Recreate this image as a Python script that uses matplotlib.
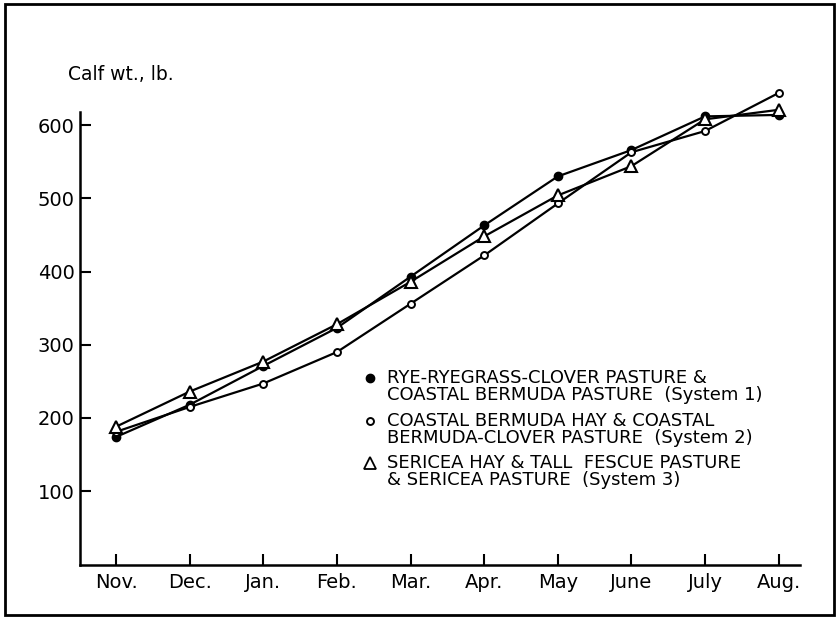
import matplotlib
matplotlib.use("Agg")
import matplotlib.pyplot as plt
from matplotlib.lines import Line2D
from matplotlib.legend_handler import HandlerLine2D
from matplotlib.patches import Rectangle

months = ["Nov.", "Dec.", "Jan.", "Feb.", "Mar.", "Apr.", "May", "June", "July", "Aug."]
system1 = [174, 218, 271, 323, 393, 463, 530, 566, 612, 614]
system2 = [181, 215, 247, 290, 356, 422, 493, 563, 592, 644]
system3 = [188, 236, 277, 328, 386, 448, 504, 544, 608, 621]
labels = [
    "RYE-RYEGRASS-CLOVER PASTURE &\nCOASTAL BERMUDA PASTURE  (System 1)",
    "COASTAL BERMUDA HAY & COASTAL\nBERMUDA-CLOVER PASTURE  (System 2)",
    "SERICEA HAY & TALL  FESCUE PASTURE\n& SERICEA PASTURE  (System 3)",
]
yticks = [100, 200, 300, 400, 500, 600]

plt.rcParams['font.family'] = ['DejaVu Sans']

fig = plt.figure(figsize=(8.39, 6.17), dpi=100)
W, H = 839, 617
l, r, t, b = 80, 800, 112, 565
ax = fig.add_axes([l / W, 1 - b / H, (r - l) / W, (b - t) / H])

x = list(range(len(months)))
kw = dict(color='black', lw=1.6, clip_on=False)
ax.plot(x, system1, marker='o', ms=6, mfc='black', mec='black', **kw)
ax.plot(x, system2, marker='o', ms=5, mfc='white', mec='black', mew=1.4, **kw)
ax.plot(x, system3, marker='^', ms=9, mfc='white', mec='black', mew=1.5, **kw)

ax.set_xlim(-0.49, 9.29)
ax.set_ylim(-1, 618)
ax.set_xticks(x)
ax.set_xticklabels(months)
ax.set_yticks(yticks)
ax.set_yticklabels([str(v) for v in yticks])
for s in ['top', 'right']:
    ax.spines[s].set_visible(False)
for s in ['left', 'bottom']:
    ax.spines[s].set_linewidth(1.8)
ax.tick_params(axis='both', direction='in', length=8, width=1.5, labelsize=14, pad=6)
ax.tick_params(axis='y', pad=4)

fig.text(68 / W, 1 - 75 / H, "Calf wt., lb.", fontsize=13.5, va='center', ha='left')


class HandlerTop(HandlerLine2D):
    def create_artists(self, legend, orig_handle, xdescent, ydescent, width, height, fontsize, trans):
        return super().create_artists(legend, orig_handle, xdescent, ydescent - 2 * 0.5 * fontsize,
                                      width, height, fontsize, trans)


handles = [
    Line2D([], [], ls='none', marker='o', ms=6, mfc='black', mec='black'),
    Line2D([], [], ls='none', marker='o', ms=5, mfc='white', mec='black', mew=1.4),
    Line2D([], [], ls='none', marker='^', ms=8, mfc='white', mec='black', mew=1.3),
]
leg = ax.legend(handles, labels, loc='upper left', bbox_to_anchor=((364 - l) / (r - l), (b - 369) / (b - t)),
                frameon=False, fontsize=13, handlelength=0.7, handletextpad=0.55, labelspacing=0.4,
                borderpad=0, borderaxespad=0,
                handler_map={Line2D: HandlerTop()})
for txt in leg.get_texts():
    txt.set_linespacing(0.95)

fig.patches.append(Rectangle((5 / W, 1 - 615 / H), (834 - 5) / W, (615 - 4) / H,
                             transform=fig.transFigure, fill=False, lw=2, ec='black'))

fig.savefig("out.png", dpi=100)
